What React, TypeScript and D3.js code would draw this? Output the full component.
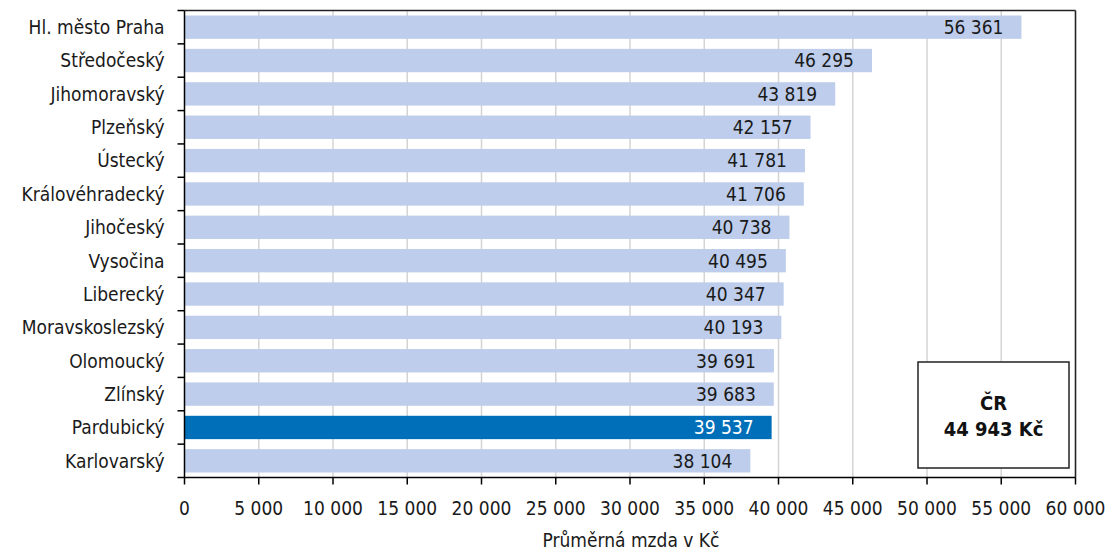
import React from "react";
import * as d3 from "d3";

const regions = [
  "Hl. město Praha",
  "Středočeský",
  "Jihomoravský",
  "Plzeňský",
  "Ústecký",
  "Královéhradecký",
  "Jihočeský",
  "Vysočina",
  "Liberecký",
  "Moravskoslezský",
  "Olomoucký",
  "Zlínský",
  "Pardubický",
  "Karlovarský",
];
const wages = [56361, 46295, 43819, 42157, 41781, 41706, 40738, 40495, 40347, 40193, 39691, 39683, 39537, 38104];
const highlighted = "Pardubický";
const xTicks = [0, 5000, 10000, 15000, 20000, 25000, 30000, 35000, 40000, 45000, 50000, 55000, 60000];
const axisTitle = "Průměrná mzda v Kč";
const totalLabel = "ČR";
const totalValue = "44 943 Kč";

const W = 1105;
const H = 553;
const left = 184.5;
const right = 1075.5;
const top = 10.5;
const bottom = 477.5;
const FONT = "'DejaVu Sans Condensed', 'Liberation Sans', sans-serif";
const FS = 19;

const fmtSp = (v: number) => d3.format(",")(v).replace(/,/g, " ");

export default function App() {
  const x = d3.scaleLinear().domain([0, 60000]).range([left, right]);
  const y = d3.scaleBand<string>().domain(regions).range([top, bottom]).paddingInner(0.3).paddingOuter(0.15);
  const band = (bottom - top) / regions.length;

  return (
    <svg width={W} height={H} style={{ position: "absolute", left: 0, top: 0 }} fontFamily={FONT}>
      <rect x={0} y={0} width={W} height={H} fill="#fff" />
      {xTicks.slice(1).map((t) => (
        <line key={"g" + t} x1={x(t)} x2={x(t)} y1={top} y2={bottom} stroke="#d4d4d4" strokeWidth={1.5} />
      ))}
      {regions.map((r, i) => (
        <rect
          key={r}
          x={x(0)}
          y={y(r)}
          width={x(wages[i]) - x(0)}
          height={y.bandwidth()}
          fill={r === highlighted ? "#006fba" : "#bdcdeb"}
        />
      ))}
      {regions.map((r, i) => (
        <text
          key={"v" + r}
          x={x(wages[i]) - 18}
          y={(y(r) as number) + y.bandwidth() / 2}
          dy="0.36em"
          textAnchor="end"
          fontSize={FS}
          fill={r === highlighted ? "#fff" : "#1a1a1a"}
        >
          {fmtSp(wages[i])}
        </text>
      ))}
      <line x1={left} x2={right} y1={top} y2={top} stroke="#222" strokeWidth={1.5} />
      <line x1={right} x2={right} y1={top} y2={bottom} stroke="#222" strokeWidth={1.5} />
      <line x1={left} x2={left} y1={top} y2={bottom} stroke="#000" strokeWidth={1.5} />
      <line x1={left} x2={right} y1={bottom} y2={bottom} stroke="#000" strokeWidth={1.5} />
      {d3.range(regions.length + 1).map((i) => (
        <line key={"yt" + i} x1={left - 7} x2={left} y1={top + i * band} y2={top + i * band} stroke="#000" strokeWidth={1.5} />
      ))}
      {regions.map((r) => (
        <text
          key={"l" + r}
          x={left - 20}
          y={(y(r) as number) + y.bandwidth() / 2}
          dy="0.36em"
          textAnchor="end"
          fontSize={FS}
          fill="#1a1a1a"
        >
          {r}
        </text>
      ))}
      {xTicks.map((t) => (
        <g key={"xt" + t}>
          <line x1={x(t)} x2={x(t)} y1={bottom} y2={bottom + 7} stroke="#000" strokeWidth={1.5} />
          <text x={x(t)} y={bottom + 37} textAnchor="middle" fontSize={FS} fill="#1a1a1a">
            {fmtSp(t)}
          </text>
        </g>
      ))}
      <text x={(left + right) / 2 + 1} y={547} textAnchor="middle" fontSize={FS} fill="#1a1a1a">
        {axisTitle}
      </text>
      <rect x={918} y={362} width={151} height={106} fill="#fff" stroke="#222" strokeWidth={1.5} />
      <text x={993.5} y={410} textAnchor="middle" fontSize={20} fontWeight="bold" fill="#111">
        {totalLabel}
      </text>
      <text x={993.5} y={436} textAnchor="middle" fontSize={20} fontWeight="bold" fill="#111">
        {totalValue}
      </text>
    </svg>
  );
}
